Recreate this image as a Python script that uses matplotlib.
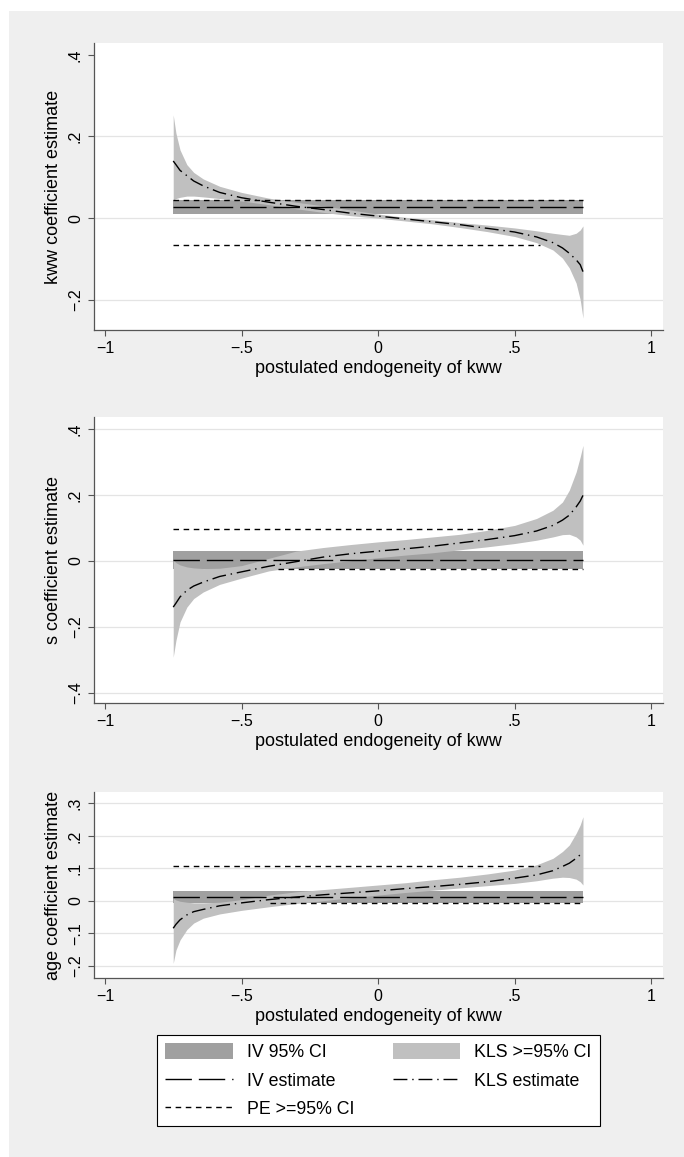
import matplotlib
matplotlib.use("Agg")
import matplotlib.pyplot as plt
from matplotlib.patches import Rectangle, Patch
from matplotlib.lines import Line2D
from matplotlib.ticker import FuncFormatter

plt.rcParams['font.family'] = ['Liberation Sans', 'DejaVu Sans']

# postulated endogeneity grid
endog = [-0.75, -0.74, -0.725, -0.70, -0.675, -0.64, -0.58, -0.50, -0.40, -0.30, -0.20, -0.10, 0.00,
         0.10, 0.20, 0.30, 0.40, 0.50, 0.58, 0.64, 0.675, 0.70, 0.725, 0.74, 0.75]

# kww coefficient
kww_kls = [0.140, 0.131, 0.117, 0.104, 0.091, 0.079, 0.063, 0.050, 0.039, 0.029, 0.021, 0.012, 0.005,
           -0.002, -0.009, -0.016, -0.025, -0.034, -0.046, -0.060, -0.073, -0.086, -0.102, -0.114, -0.131]
kww_kls_hi = [0.253, 0.208, 0.167, 0.131, 0.112, 0.096, 0.078, 0.063, 0.049, 0.039, 0.030, 0.020, 0.010,
              0.002, -0.004, -0.011, -0.017, -0.024, -0.031, -0.037, -0.040, -0.042, -0.037, -0.029, -0.019]
kww_kls_lo = [0.045, 0.048, 0.051, 0.054, 0.054, 0.052, 0.048, 0.042, 0.033, 0.023, 0.014, 0.006, 0.000,
              -0.007, -0.014, -0.023, -0.033, -0.045, -0.060, -0.078, -0.098, -0.122, -0.159, -0.200, -0.245]
kww_iv = [0.010, 0.027, 0.045]          # lo, estimate, hi
kww_pe_lo = [-0.067, -0.75, 0.594]      # value, from, to
kww_pe_hi = [0.045, -0.75, 0.75]

# s coefficient
s_kls = [-0.140, -0.128, -0.109, -0.089, -0.076, -0.064, -0.047, -0.033, -0.016, -0.002, 0.012, 0.022, 0.030,
         0.037, 0.045, 0.055, 0.065, 0.077, 0.091, 0.108, 0.124, 0.139, 0.164, 0.182, 0.199]
s_kls_hi = [0.003, -0.005, -0.012, -0.018, -0.021, -0.023, -0.022, -0.014, 0.008, 0.030, 0.041, 0.050, 0.058,
            0.065, 0.073, 0.081, 0.093, 0.108, 0.129, 0.154, 0.179, 0.215, 0.270, 0.316, 0.351]
s_kls_lo = [-0.292, -0.241, -0.185, -0.140, -0.114, -0.094, -0.071, -0.052, -0.030, -0.018, -0.008, 0.001, 0.010,
            0.018, 0.025, 0.034, 0.043, 0.053, 0.063, 0.073, 0.080, 0.081, 0.073, 0.063, 0.048]
s_iv = [-0.025, 0.003, 0.029]
s_pe_lo = [-0.023, -0.365, 0.75]
s_pe_hi = [0.096, -0.75, 0.471]

# age coefficient
age_kls = [-0.084, -0.072, -0.058, -0.043, -0.033, -0.026, -0.015, -0.006, 0.004, 0.012, 0.019, 0.025, 0.031,
           0.038, 0.044, 0.051, 0.059, 0.070, 0.080, 0.093, 0.106, 0.116, 0.131, 0.142, 0.149]
age_kls_hi = [0.008, 0.003, -0.001, -0.004, -0.006, -0.006, -0.004, 0.004, 0.018, 0.028, 0.035, 0.042, 0.049,
              0.056, 0.065, 0.073, 0.083, 0.095, 0.111, 0.131, 0.152, 0.172, 0.208, 0.234, 0.259]
age_kls_lo = [-0.192, -0.151, -0.120, -0.088, -0.068, -0.053, -0.040, -0.029, -0.018, -0.008, 0.001, 0.010, 0.018,
              0.026, 0.033, 0.040, 0.047, 0.054, 0.062, 0.070, 0.073, 0.072, 0.067, 0.059, 0.049]
age_iv = [-0.006, 0.013, 0.032]
age_pe_lo = [-0.005, -0.396, 0.75]
age_pe_hi = [0.106, -0.75, 0.594]

x_ticks = [-1, -0.5, 0, 0.5, 1]
kww_yticks = [-0.2, 0, 0.2, 0.4]
s_yticks = [-0.4, -0.2, 0, 0.2, 0.4]
age_yticks = [-0.2, -0.1, 0, 0.1, 0.2, 0.3]

IV_CI = '#a0a0a0'
KLS_CI = '#c0c0c0'
AX_COL = '#555555'
LS_IV = (0, (19, 5))
LS_KLS = (0, (10, 3.5, 1, 3.5))
LS_PE = (0, (4, 3.3))


def stata_fmt(v, pos=None):
    if abs(v) < 1e-9:
        return '0'
    s = '%g' % abs(v)
    if s.startswith('0.'):
        s = s[1:]
    return ('\u2212' if v < 0 else '') + s


W, H = 684, 1157
fig = plt.figure(figsize=(W / 100, H / 100), dpi=100, facecolor='white')
fig.patches.append(Rectangle((9 / W, 0), 1, 1 - 11 / H, transform=fig.transFigure,
                             facecolor='#efefef', edgecolor='none', zorder=-1))

panels = [
    ('kww coefficient estimate', kww_kls, kww_kls_lo, kww_kls_hi, kww_iv, kww_pe_lo, kww_pe_hi,
     kww_yticks, kww_yticks[:-1], (-0.274, 0.429), (43, 330)),
    ('s coefficient estimate', s_kls, s_kls_lo, s_kls_hi, s_iv, s_pe_lo, s_pe_hi,
     s_yticks, s_yticks, (-0.431, 0.437), (417, 703)),
    ('age coefficient estimate', age_kls, age_kls_lo, age_kls_hi, age_iv, age_pe_lo, age_pe_hi,
     age_yticks, age_yticks, (-0.237, 0.335), (792, 978)),
]

for title, kls, lo, hi, iv, pe_lo, pe_hi, yt, grid, ylim, (top, bot) in panels:
    ax = fig.add_axes([94 / W, 1 - bot / H, 569 / W, (bot - top) / H])
    ax.set_facecolor('white')
    for g in grid:
        ax.axhline(g, color='#e4e4e4', lw=0.9, zorder=0.5)

    ax.fill_between([-0.75, 0.75], iv[0], iv[2], color=IV_CI, lw=0, zorder=1)
    ax.fill_between(endog, lo, hi, color=KLS_CI, lw=0, zorder=2)
    for val, x0, x1 in (pe_lo, pe_hi):
        ax.plot([x0, x1], [val, val], color='black', lw=1.0, ls=LS_PE, zorder=3)
    ax.plot([-0.75, 0.75], [iv[1], iv[1]], color='black', lw=1.0, ls=LS_IV, zorder=4)
    ax.plot(endog, kls, color='black', lw=1.0, ls=LS_KLS, zorder=5)

    ax.set_xlim(-1.040, 1.043)
    ax.set_ylim(*ylim)
    ax.set_xticks(x_ticks)
    ax.set_yticks(yt)
    ax.xaxis.set_major_formatter(FuncFormatter(stata_fmt))
    ax.yaxis.set_major_formatter(FuncFormatter(stata_fmt))
    for s in ('top', 'right'):
        ax.spines[s].set_visible(False)
    for s in ('left', 'bottom'):
        ax.spines[s].set_color(AX_COL)
        ax.spines[s].set_linewidth(0.9)
    ax.tick_params(direction='out', length=4, width=0.8, color=AX_COL, labelsize=11.5, pad=4)
    ax.tick_params(axis='y', labelrotation=90)
    plt.setp(ax.get_yticklabels(), va='center')
    ax.set_ylabel(title, fontsize=13, labelpad=4)
    ax.set_xlabel('postulated endogeneity of kww', fontsize=13, labelpad=3)

handles = [
    Patch(facecolor=IV_CI, edgecolor='none'),
    Line2D([], [], color='black', lw=1.0, ls=LS_IV),
    Line2D([], [], color='black', lw=1.0, ls=LS_PE),
    Patch(facecolor=KLS_CI, edgecolor='none'),
    Line2D([], [], color='black', lw=1.0, ls=LS_KLS),
]
labels = ['IV 95% CI', 'IV estimate', 'PE >=95% CI', 'KLS >=95% CI', 'KLS estimate']
leg = fig.legend(handles, labels, ncol=2, loc='upper center',
                 bbox_to_anchor=(378.5 / W, 1 - 1035 / H), frameon=True, fancybox=False,
                 edgecolor='black', framealpha=1, fontsize=12.75, handlelength=3.8,
                 handleheight=1.0, handletextpad=0.8, columnspacing=2.2, borderpad=0.45,
                 labelspacing=0.6, borderaxespad=0)
leg.get_frame().set_linewidth(0.8)

fig.savefig('out.png', dpi=100, facecolor='white')
